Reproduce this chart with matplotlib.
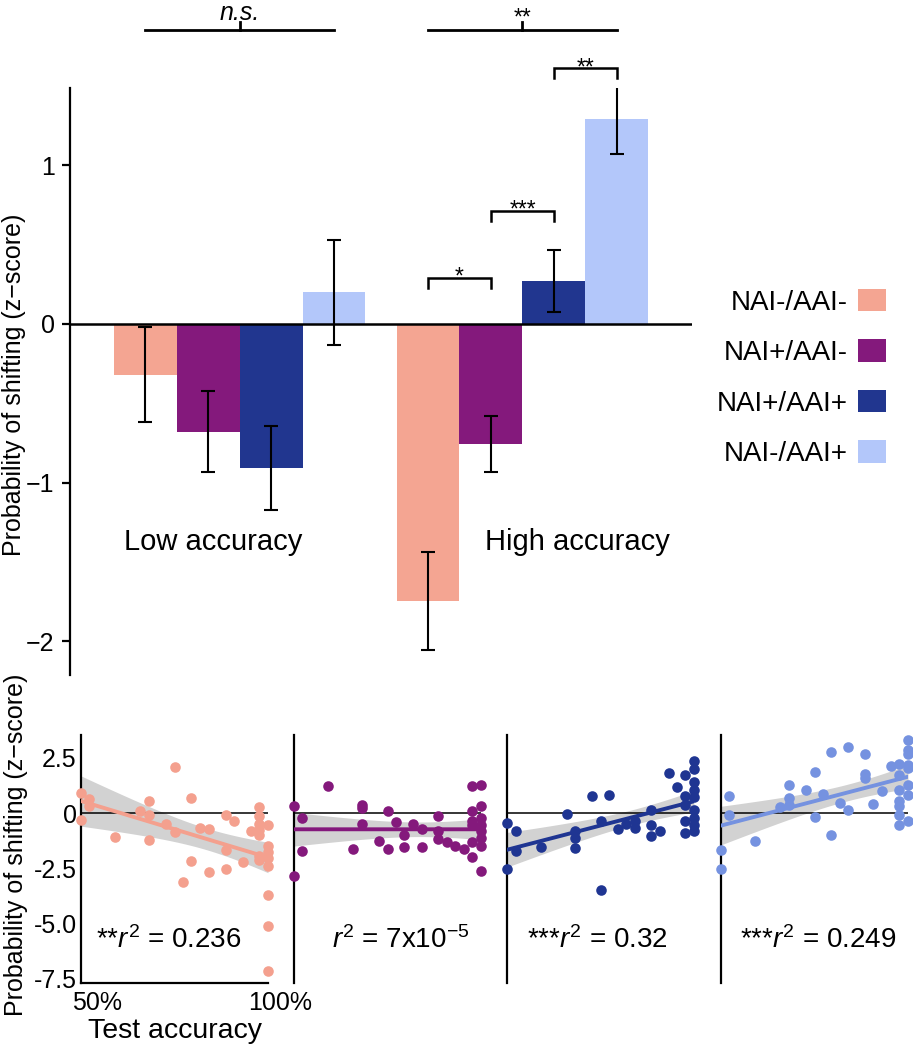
import numpy as np
import matplotlib
matplotlib.use("Agg")
import matplotlib.pyplot as plt
from matplotlib.patches import Patch
from matplotlib.transforms import ScaledTranslation

plt.rcParams['font.family'] = ['Liberation Sans', 'DejaVu Sans']
plt.rcParams['mathtext.fontset'] = 'custom'
plt.rcParams['mathtext.rm'] = 'Liberation Sans'
plt.rcParams['mathtext.it'] = 'Liberation Sans:italic'

# ---- data ----
groups = ['Low accuracy', 'High accuracy']
conditions = ['NAI-/AAI-', 'NAI+/AAI-', 'NAI+/AAI+', 'NAI-/AAI+']
bar_colors = ['#F4A592', '#84197C', '#21368F', '#B3C7FA']
dot_colors = ['#F4A08E', '#84197C', '#1F3592', '#7592E0']

low_mean = [-0.32, -0.68, -0.91, 0.20]
low_se = [0.30, 0.255, 0.265, 0.33]
high_mean = [-1.745, -0.755, 0.27, 1.29]
high_se = [0.31, 0.175, 0.195, 0.218]

# pairwise comparisons in high accuracy group: (bar a, bar b, label, height)
high_pairs = [(0, 1, '*', 0.29), (1, 2, '***', 0.71), (2, 3, '**', 1.61)]
group_sig = ['n.s.', '**']

# per-subject scatter (test accuracy, z-score)
acc_1 = [0.5, 0.5, 0.522, 0.522, 0.591, 0.659, 0.682, 0.682, 0.682, 0.727,
         0.75, 0.75, 0.772, 0.795, 0.795, 0.818, 0.841, 0.841, 0.887, 0.887,
         0.887, 0.91, 0.932, 0.955, 0.977, 0.977, 0.977, 0.977, 0.977, 0.977,
         0.977, 1.0, 1.0, 1.0, 1.0, 1.0, 1.0, 1.0, 1.0]
z_1 = [0.90, -0.33, 0.65, 0.30, -1.10, 0.08, 0.53, -0.11, -1.24, -0.48,
       2.07, -0.86, -3.12, 0.68, -2.19, -0.68, -0.71, -2.68, -0.08, -1.66,
       -2.53, -0.38, -2.20, -0.83, 0.27, -0.15, -0.50, -0.75, -0.98, -1.96,
       -2.11, -0.53, -1.51, -1.78, -2.04, -2.41, -3.70, -5.13, -7.16]

acc_2 = [0.5, 0.5, 0.522, 0.522, 0.591, 0.659, 0.681, 0.681, 0.681, 0.727,
         0.75, 0.75, 0.773, 0.795, 0.795, 0.819, 0.841, 0.841, 0.886, 0.886,
         0.886, 0.909, 0.931, 0.955, 0.977, 0.977, 0.977, 0.977, 0.977, 0.977,
         1.0, 1.0, 1.0, 1.0, 1.0, 1.0, 1.0, 1.0]
z_2 = [0.33, -2.87, -0.23, -1.73, 1.24, -1.63, 0.38, 0.23, -0.50, -1.25,
       0.11, -1.63, -0.41, -0.98, -1.55, -0.48, -0.72, -1.52, -0.12, -0.83,
       -1.18, -1.31, -1.51, -1.63, 1.24, 0.11, -0.38, -0.53, -1.33, -2.01,
       1.28, 0.33, -0.23, -0.53, -0.83, -1.13, -1.51, -2.64]

acc_3 = [0.5, 0.5, 0.523, 0.523, 0.591, 0.66, 0.683, 0.683, 0.683, 0.728,
         0.75, 0.75, 0.774, 0.796, 0.819, 0.841, 0.841, 0.886, 0.886, 0.886,
         0.909, 0.932, 0.955, 0.977, 0.977, 0.977, 0.977, 0.977, 1.0, 1.0,
         1.0, 1.0, 1.0, 1.0, 1.0, 1.0, 1.0]
z_3 = [-0.45, -2.53, -0.80, -1.70, -1.55, -0.03, -0.83, -1.13, -1.58, 0.75,
       -0.38, -3.47, 0.80, -0.71, -0.48, -0.38, -0.68, 0.15, -0.53, -1.03,
       -0.83, 1.81, 1.16, 1.73, 0.75, 0.38, -0.38, -0.90, 2.37, 1.99,
       1.40, 1.06, 0.71, 0.15, -0.23, -0.53, -0.80]

acc_4 = [0.5, 0.5, 0.522, 0.522, 0.591, 0.657, 0.681, 0.681, 0.681, 0.727,
         0.75, 0.75, 0.773, 0.795, 0.795, 0.818, 0.84, 0.84, 0.884, 0.884,
         0.884, 0.907, 0.931, 0.954, 0.976, 0.976, 0.976, 0.976, 0.976, 0.976,
         0.976, 1.0, 1.0, 1.0, 1.0, 1.0, 1.0, 1.0, 1.0]
z_4 = [-1.69, -2.53, 0.75, -0.08, -1.28, 0.27, 1.28, 0.68, 0.38, 1.06,
       1.86, -0.20, 0.87, 2.75, -1.01, 0.45, 2.99, 0.12, 2.68, 1.76,
       1.58, 0.42, 1.01, 2.11, 2.22, 1.70, 1.03, 0.53, 0.30, -0.08,
       -0.53, 3.32, 2.87, 2.67, 2.19, 2.04, 1.28, 0.80, -0.35]

r2_labels = ['**$r^2$ = 0.236', '$r^2$ = 7x10$^{-5}$',
             '***$r^2$ = 0.32', '***$r^2$ = 0.249']

W, H = 913, 1050
fig = plt.figure(figsize=(W / 100, H / 100), dpi=100)

# ---- top bar chart ----
ax = fig.add_axes([70 / W, 1 - 675 / H, 622 / W, 587 / H])
bw = 0.2226
ax.set_xlim(0.401, 2.599)
ax.set_ylim(-2.212, 1.487)
centers = {}
for g, (means, ses) in enumerate([(low_mean, low_se), (high_mean, high_se)]):
    for i in range(4):
        x = g + 1 + (i - 1.5) * bw
        centers[(g, i)] = x
        ax.bar(x, means[i], width=bw, color=bar_colors[i], zorder=1)
        ax.errorbar(x, means[i], yerr=ses[i], color='black', elinewidth=1.5,
                    capsize=5, capthick=1.5, zorder=3)
ax.axhline(0, color='black', lw=1.8, zorder=2)

for s in ['top', 'right', 'bottom']:
    ax.spines[s].set_visible(False)
ax.spines['left'].set_linewidth(1.6)
ax.set_xticks([])
ax.set_yticks([-2, -1, 0, 1])
ax.tick_params(axis='y', labelsize=18, length=6, width=1.6, pad=5)

ax.text(0.906, -1.374, groups[0], ha='center', va='center', fontsize=21)
ax.text(2.193, -1.374, groups[1], ha='center', va='center', fontsize=21)

# brackets within high accuracy
for a, b, lab, h in high_pairs:
    xa, xb = centers[(1, a)], centers[(1, b)]
    ax.plot([xa, xa, xb, xb], [h - 0.063, h, h, h - 0.063], color='black',
            lw=1.8, clip_on=False, solid_joinstyle='miter')
    ax.text((xa + xb) / 2, h - 0.035, lab, ha='center', va='baseline',
            fontsize=16.5)

# group-level comparisons above the axes
for g in range(2):
    x0, x1 = centers[(g, 0)], centers[(g, 3)]
    xm = g + 1
    ax.plot([x0, x1], [1.85, 1.85], color='black', lw=2, clip_on=False)
    ax.plot([xm, xm], [1.85, 1.905], color='black', lw=2, clip_on=False)
    if group_sig[g] == 'n.s.':
        ax.text(xm, 1.915, group_sig[g], ha='center', va='baseline',
                fontsize=18, style='italic')
    else:
        ax.text(xm, 1.885, group_sig[g], ha='center', va='baseline',
                fontsize=16.5)

handles = [Patch(facecolor=c, edgecolor='none') for c in bar_colors]
fig.legend(handles, conditions, loc='center right',
           bbox_to_anchor=(886 / W, 1 - 378 / H), frameon=False,
           markerfirst=False, fontsize=20, handlelength=1.0,
           handleheight=0.86, handletextpad=0.36, labelspacing=0.85,
           borderpad=0, borderaxespad=0)

fig.text(14 / W, 1 - 385 / H, 'Probability of shifting (z\u2212score)',
         rotation=90, ha='center', va='center', fontsize=18)

# ---- bottom regression panels ----
lefts = [81, 294, 507, 721]
label_x = [0.734, 0.786, 0.741, 0.759]
scatter_sets = [(acc_1, z_1), (acc_2, z_2), (acc_3, z_3), (acc_4, z_4)]
for i, (acc, z) in enumerate(scatter_sets):
    axb = fig.add_axes([lefts[i] / W, 1 - 983 / H, 187 / W, 248 / H])
    axb.set_xlim(0.5, 1.0)
    axb.set_ylim(-7.69, 3.53)
    acc = np.array(acc)
    z = np.array(z)
    slope, icpt = np.polyfit(acc, z, 1)
    xs = np.linspace(0.5, 1.0, 60)
    fit = icpt + slope * xs
    n = len(acc)
    resid = z - (icpt + slope * acc)
    s_err = np.sqrt(np.sum(resid ** 2) / (n - 2))
    sxx = np.sum((acc - acc.mean()) ** 2)
    ci = 2.03 * s_err * np.sqrt(1 / n + (xs - acc.mean()) ** 2 / sxx)
    axb.fill_between(xs, fit - ci, fit + ci, color='#d2d2d2', lw=0, zorder=1)
    axb.axhline(0, color='black', lw=1.1, zorder=2)
    axb.plot(xs, fit, color=dot_colors[i], lw=2.8, zorder=3)
    axb.scatter(acc, z, s=58, color=dot_colors[i], lw=0, zorder=4,
                clip_on=False)
    axb.text(label_x[i], -5.73, r2_labels[i], ha='center', va='center',
             fontsize=20)
    for s in ['top', 'right']:
        axb.spines[s].set_visible(False)
    axb.spines['left'].set_linewidth(1.6)
    if i == 0:
        axb.spines['bottom'].set_linewidth(1.6)
        axb.set_yticks([2.5, 0, -2.5, -5.0, -7.5],
                       ['2.5', '0', '-2.5', '-5.0', '-7.5'])
        axb.set_xticks([0.5, 1.0], ['50%', '100%'])
        axb.tick_params(axis='both', labelsize=18, length=0, pad=3)
        axb.tick_params(axis='x', pad=6)
        for lab, dx in zip(axb.get_xticklabels(), [16, 12]):
            lab.set_transform(lab.get_transform() +
                              ScaledTranslation(dx / 100, 0, fig.dpi_scale_trans))
        axb.set_xlabel('Test accuracy', fontsize=20.5, labelpad=2)
    else:
        axb.spines['bottom'].set_visible(False)
        axb.set_xticks([])
        axb.set_yticks([])

fig.text(16 / W, 1 - 845 / H, 'Probability of shifting (z\u2212score)',
         rotation=90, ha='center', va='center', fontsize=18)

fig.savefig('out.png', dpi=100)
